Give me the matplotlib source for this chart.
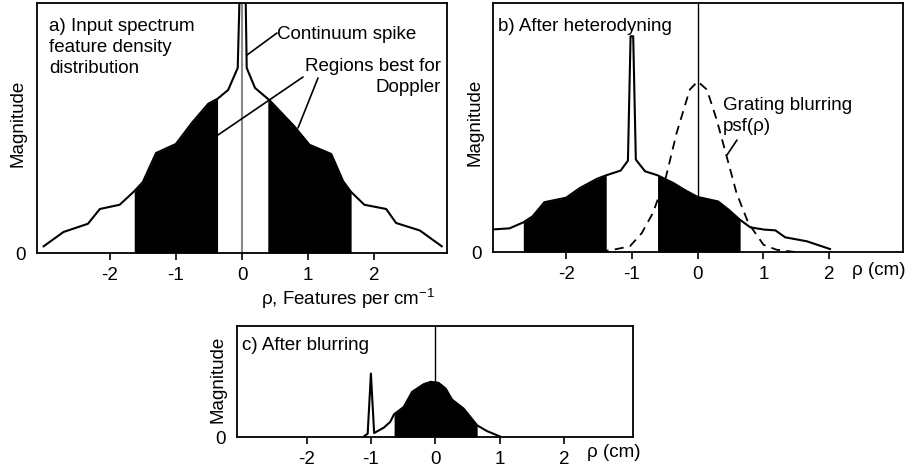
import numpy as np
import matplotlib.pyplot as plt

plt.rcParams['font.family'] = ['Liberation Sans', 'DejaVu Sans']
plt.rcParams['mathtext.fontset'] = 'custom'
plt.rcParams['mathtext.rm'] = 'Liberation Sans'
plt.rcParams['mathtext.it'] = 'Liberation Sans'
plt.rcParams['font.size'] = 13.5

# a) input spectrum feature density (x in cm^-1, y as fraction of axes height)
a_x = [-3.0, -2.7, -2.33, -2.15, -1.85, -1.63, -1.5, -1.3, -1.0, -0.76, -0.51, -0.37,
       -0.21, -0.065, -0.02, 0.045, 0.071, 0.197, 0.42, 0.79, 1.02, 1.35, 1.53, 1.65,
       1.85, 2.18, 2.33, 2.69, 3.02]
a_y = [0.027, 0.084, 0.117, 0.176, 0.193, 0.247, 0.284, 0.40, 0.436, 0.52, 0.597, 0.617,
       0.652, 0.74, 1.2, 1.2, 0.74, 0.66, 0.61, 0.507, 0.433, 0.396, 0.287, 0.244,
       0.193, 0.176, 0.12, 0.09, 0.027]
a_regions = [(-1.63, -0.37), (0.39, 1.65)]

# b) after heterodyning
b_x = [-3.15, -2.86, -2.65, -2.51, -2.33, -2.0, -1.79, -1.53, -1.39, -1.17, -1.06,
       -1.02, -0.98, -0.94, -0.8, -0.61, -0.37, -0.19, 0.0, 0.31, 0.47, 0.64, 0.8,
       1.01, 1.18, 1.33, 1.66, 2.01]
b_y = [0.09, 0.095, 0.119, 0.143, 0.2, 0.218, 0.257, 0.294, 0.308, 0.327, 0.367,
       0.866, 0.866, 0.371, 0.324, 0.308, 0.277, 0.248, 0.221, 0.203, 0.17, 0.13, 0.099,
       0.09, 0.087, 0.059, 0.043, 0.012]
b_regions = [(-2.65, -1.39), (-0.61, 0.645)]

# grating blurring psf
psf_x = [-1.49, -1.23, -1.03, -0.85, -0.68, -0.48, -0.32, -0.12, 0.0, 0.14, 0.29,
         0.44, 0.59, 0.77, 1.0, 1.2, 1.48]
psf_y = [0.0, 0.012, 0.023, 0.076, 0.157, 0.304, 0.478, 0.652, 0.685, 0.652, 0.53,
         0.384, 0.237, 0.116, 0.029, 0.009, 0.0]

# c) after blurring
c_x = [-1.1, -1.05, -1.0, -0.95, -0.80, -0.70, -0.64, -0.49, -0.36, -0.18, -0.07,
       0.05, 0.16, 0.26, 0.44, 0.65, 0.80, 1.0]
c_y = [0.009, 0.03, 0.572, 0.036, 0.084, 0.136, 0.205, 0.271, 0.407, 0.476, 0.497,
       0.488, 0.437, 0.337, 0.256, 0.105, 0.054, 0.006]
c_regions = [(-0.64, 0.65)]

ticks = [-2, -1, 0, 1, 2]
tick_labels = ['-2', '-1', '0', '1', '2']

H = 470  # figure height in pixels, for the leader lines


def fill_region(ax, x, y, lo, hi):
    x = np.asarray(x)
    y = np.asarray(y)
    inside = (x > lo) & (x < hi)
    px = np.concatenate([[lo], x[inside], [hi]])
    py = np.concatenate([[np.interp(lo, x, y)], y[inside], [np.interp(hi, x, y)]])
    ax.fill_between(px, 0, py, color='black', lw=0, zorder=2)


def leader(ax, p_from, p_to):
    # thin pointer line, given in pixels measured from the top-left corner
    ax.annotate('', xy=(p_to[0], H - p_to[1]), xytext=(p_from[0], H - p_from[1]),
                xycoords='figure pixels',
                arrowprops=dict(arrowstyle='-', lw=1.2, color='black',
                                shrinkA=0, shrinkB=0))


def setup(ax, xlim, ylabel_x):
    ax.set_xlim(*xlim)
    ax.set_ylim(0, 1)
    ax.set_xticks(ticks)
    ax.set_xticklabels(tick_labels)
    ax.set_yticks([0])
    ax.set_yticklabels(['0'])
    ax.tick_params(axis='x', length=5, width=1.2, pad=5, direction='out')
    ax.tick_params(axis='y', length=0, pad=8)
    for s in ax.spines.values():
        s.set_linewidth(1.3)
    ax.text(ylabel_x, 0.52, 'Magnitude', rotation=90, ha='center', va='center',
            transform=ax.transAxes)


fig = plt.figure(figsize=(9.1, 4.7), dpi=100)
ax_a = fig.add_axes([0.0407, 0.4617, 0.4505, 0.532])
ax_b = fig.add_axes([0.5418, 0.4638, 0.4505, 0.530])
ax_c = fig.add_axes([0.2604, 0.0702, 0.4352, 0.2362])

# panel a
setup(ax_a, (-3.1, 3.1), -0.046)
ax_a.axvline(0, color='#888888', lw=1.5, zorder=1)
for lo, hi in a_regions:
    fill_region(ax_a, a_x, a_y, lo, hi)
ax_a.plot(a_x, a_y, color='black', lw=1.5, zorder=3)
ax_a.text(0.03, 0.938, 'a) Input spectrum\nfeature density\ndistribution',
          transform=ax_a.transAxes, ha='left', va='top', linespacing=1.3)
ax_a.text(0.585, 0.875, 'Continuum spike', transform=ax_a.transAxes, ha='left', va='center')
leader(ax_a, (277, 33), (247, 55))
ax_a.text(0.985, 0.705, 'Regions best for\nDoppler', transform=ax_a.transAxes,
          ha='right', va='center', linespacing=1.3, multialignment='right')
leader(ax_a, (303, 77), (218, 135))
leader(ax_a, (318, 78), (298, 128))
ax_a.text(0.76, -0.185, 'ρ, Features per cm$^{-1}$', transform=ax_a.transAxes,
          ha='center', va='center')

# panel b
setup(ax_b, (-3.11, 3.12), -0.044)
ax_b.axvline(0, color='black', lw=1.0, zorder=1)
for lo, hi in b_regions:
    fill_region(ax_b, b_x, b_y, lo, hi)
ax_b.plot(b_x, b_y, color='black', lw=1.5, zorder=3)
ax_b.plot(psf_x, psf_y, color='black', lw=1.3, dashes=(5, 3.5), zorder=4)
ax_b.text(0.013, 0.905, 'b) After heterodyning', transform=ax_b.transAxes,
          ha='left', va='center')
ax_b.text(0.56, 0.545, 'Grating blurring\npsf(ρ)', transform=ax_b.transAxes,
          ha='left', va='center', linespacing=1.3)
leader(ax_b, (737, 140), (727, 155))
ax_b.text(1.005, -0.075, 'ρ (cm)', transform=ax_b.transAxes, ha='right', va='center')

# panel c
setup(ax_c, (-3.08, 3.07), -0.048)
ax_c.axvline(0, color='black', lw=1.0, zorder=1)
for lo, hi in c_regions:
    fill_region(ax_c, c_x, c_y, lo, hi)
ax_c.plot(c_x, c_y, color='black', lw=1.5, zorder=3)
ax_c.text(0.013, 0.82, 'c) After blurring', transform=ax_c.transAxes,
          ha='left', va='center')
ax_c.text(1.02, -0.14, 'ρ (cm)', transform=ax_c.transAxes, ha='right', va='center')

fig.savefig('out.png', dpi=100)
